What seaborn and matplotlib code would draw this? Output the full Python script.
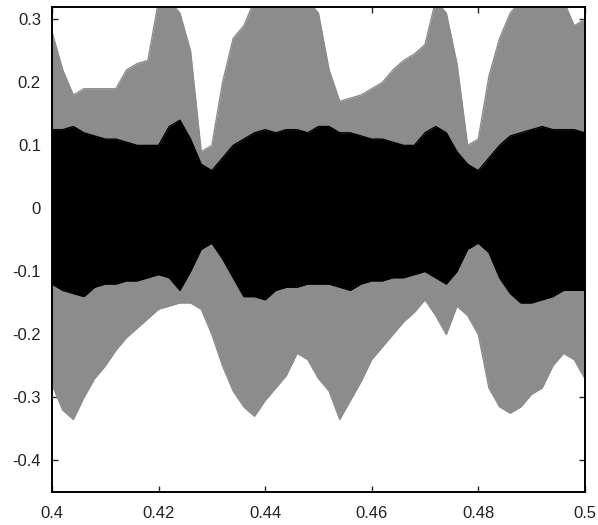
"""
Two overlaid signal envelopes (grey = wide signal, black = narrow signal).
"""

import matplotlib
matplotlib.use('Agg')
import matplotlib.pyplot as plt
import seaborn as sns
import pandas as pd
import numpy as np

# time axis, sampled every 0.002 s
time = [0.400, 0.402, 0.404, 0.406, 0.408, 0.410, 0.412, 0.414, 0.416, 0.418,
        0.420, 0.422, 0.424, 0.426, 0.428, 0.430, 0.432, 0.434, 0.436, 0.438,
        0.440, 0.442, 0.444, 0.446, 0.448, 0.450, 0.452, 0.454, 0.456, 0.458,
        0.460, 0.462, 0.464, 0.466, 0.468, 0.470, 0.472, 0.474, 0.476, 0.478,
        0.480, 0.482, 0.484, 0.486, 0.488, 0.490, 0.492, 0.494, 0.496, 0.498,
        0.500]

# grey signal envelope (values above 0.32 are clipped by the axis)
grey_upper = [0.28, 0.22, 0.18, 0.19, 0.19, 0.19, 0.19, 0.22, 0.23, 0.235,
              0.33, 0.33, 0.31, 0.25, 0.09, 0.10, 0.20, 0.27, 0.29, 0.33,
              0.33, 0.33, 0.33, 0.33, 0.33, 0.31, 0.22, 0.17, 0.175, 0.18,
              0.19, 0.20, 0.22, 0.235, 0.245, 0.26, 0.33, 0.31, 0.23, 0.10,
              0.11, 0.21, 0.27, 0.31, 0.33, 0.33, 0.33, 0.33, 0.33, 0.29,
              0.30]
grey_lower = [-0.28, -0.32, -0.335, -0.30, -0.27, -0.25, -0.225, -0.205, -0.19, -0.175,
              -0.16, -0.155, -0.15, -0.15, -0.16, -0.20, -0.25, -0.29, -0.315, -0.33,
              -0.305, -0.285, -0.265, -0.23, -0.24, -0.27, -0.29, -0.335, -0.305, -0.275,
              -0.24, -0.22, -0.20, -0.18, -0.165, -0.145, -0.17, -0.20, -0.155, -0.17,
              -0.20, -0.285, -0.315, -0.325, -0.315, -0.295, -0.285, -0.25, -0.23, -0.24,
              -0.27]

# black signal envelope
black_upper = [0.125, 0.125, 0.13, 0.12, 0.115, 0.11, 0.11, 0.105, 0.10, 0.10,
               0.10, 0.13, 0.14, 0.11, 0.07, 0.06, 0.08, 0.10, 0.11, 0.12,
               0.125, 0.12, 0.125, 0.125, 0.12, 0.13, 0.13, 0.12, 0.12, 0.115,
               0.11, 0.11, 0.105, 0.10, 0.10, 0.12, 0.13, 0.12, 0.09, 0.07,
               0.06, 0.08, 0.10, 0.115, 0.12, 0.125, 0.13, 0.125, 0.125, 0.125,
               0.12]
black_lower = [-0.12, -0.13, -0.135, -0.14, -0.125, -0.12, -0.12, -0.115, -0.115, -0.11,
               -0.105, -0.11, -0.13, -0.10, -0.065, -0.055, -0.08, -0.11, -0.14, -0.14,
               -0.145, -0.13, -0.125, -0.125, -0.12, -0.12, -0.12, -0.125, -0.13, -0.12,
               -0.115, -0.115, -0.11, -0.11, -0.105, -0.10, -0.11, -0.12, -0.10, -0.065,
               -0.055, -0.07, -0.11, -0.135, -0.15, -0.15, -0.145, -0.14, -0.13, -0.13,
               -0.13]

x_ticks = [0.4, 0.42, 0.44, 0.46, 0.48, 0.5]
y_ticks = [0.3, 0.2, 0.1, 0, -0.1, -0.2, -0.3, -0.4]

sns.set_style('ticks')
plt.rcParams['font.family'] = ['Liberation Sans', 'DejaVu Sans']
plt.rcParams['axes.unicode_minus'] = False

df = pd.DataFrame({'t': time,
                   'grey_upper': grey_upper, 'grey_lower': grey_lower,
                   'black_upper': black_upper, 'black_lower': black_lower})

fig = plt.figure(figsize=(5.98, 5.25), dpi=100)
ax = fig.add_axes([0.087, 0.063, 0.891, 0.924])

grey = '#8c8c8c'
ax.fill_between(df['t'], df['grey_lower'], df['grey_upper'], color=grey, lw=0)
sns.lineplot(data=df, x='t', y='grey_upper', color=grey, lw=1, ax=ax)
sns.lineplot(data=df, x='t', y='grey_lower', color=grey, lw=1, ax=ax)

ax.fill_between(df['t'], df['black_lower'], df['black_upper'], color='black', lw=0)
sns.lineplot(data=df, x='t', y='black_upper', color='black', lw=1, ax=ax)
sns.lineplot(data=df, x='t', y='black_lower', color='black', lw=1, ax=ax)

ax.set_xlim(0.4, 0.5)
ax.set_ylim(-0.45, 0.32)
ax.set_xticks(x_ticks)
ax.set_xticklabels(['%g' % v for v in x_ticks])
ax.set_yticks(y_ticks)
ax.set_yticklabels(['%g' % v for v in y_ticks])
ax.set_xlabel('')
ax.set_ylabel('')

for side in ['left', 'right', 'top', 'bottom']:
    ax.spines[side].set_visible(True)
    ax.spines[side].set_color('black')
    ax.spines[side].set_linewidth(1.4)
ax.tick_params(direction='in', length=4, width=1, top=True, right=True,
               labelsize=12, labelcolor='#222222')
ax.tick_params(axis='x', pad=10)
ax.tick_params(axis='y', pad=8)

fig.savefig('out.png', dpi=100)
